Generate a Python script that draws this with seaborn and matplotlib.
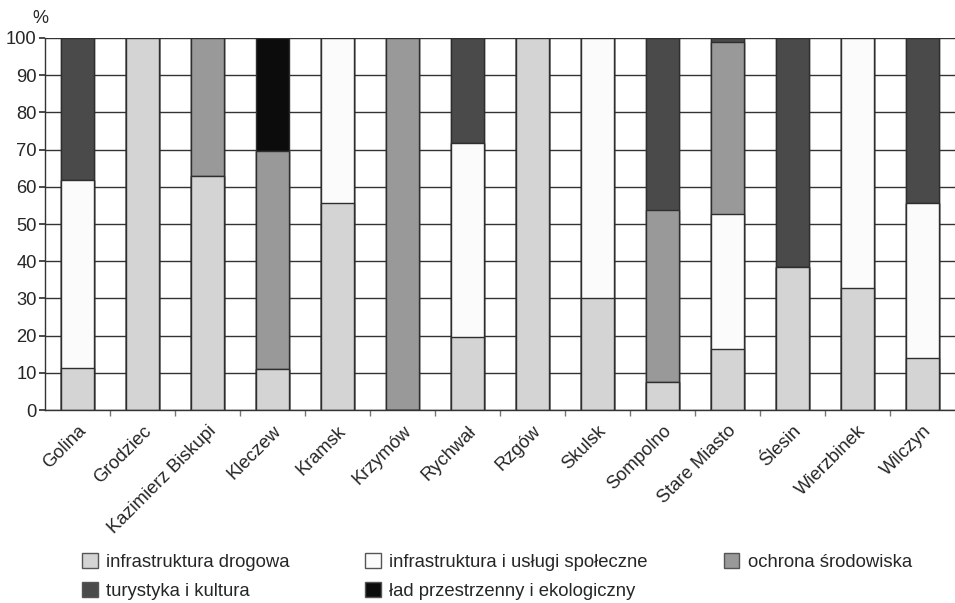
import numpy as np
import pandas as pd
import matplotlib
matplotlib.use("Agg")
import matplotlib.pyplot as plt
import matplotlib.patches as mpatches
import seaborn as sns

gminy = ["Golina", "Grodziec", "Kazimierz Biskupi", "Kleczew", "Kramsk", "Krzymów",
         "Rychwał", "Rzgów", "Skulsk", "Sompolno", "Stare Miasto", "Ślesin",
         "Wierzbinek", "Wilczyn"]

drogowa    = [11.2, 100, 63.0, 11.0, 55.6, 0,   19.7, 100, 30.2, 7.6,  16.4, 38.5, 32.7, 13.9]
spoleczne  = [50.6, 0,   0,    0,    44.4, 0,   52.2, 0,   69.8, 0,    36.3, 0,    67.3, 41.7]
ochrona    = [0,    0,   37.0, 58.7, 0,    100, 0,    0,   0,    46.2, 46.1, 0,    0,    0]
turystyka  = [38.2, 0,   0,    0,    0,    0,   28.1, 0,   0,    46.2, 1.2,  61.5, 0,    44.4]
lad        = [0,    0,   0,    30.3, 0,    0,   0,    0,   0,    0,    0,    0,    0,    0]

series = ["infrastruktura drogowa", "infrastruktura i usługi społeczne",
          "ochrona środowiska", "turystyka i kultura", "ład przestrzenny i ekologiczny"]
colors = ["#d4d4d4", "#fbfbfb", "#999999", "#4a4a4a", "#0c0c0c"]

df = pd.DataFrame({"gmina": gminy, series[0]: drogowa, series[1]: spoleczne,
                   series[2]: ochrona, series[3]: turystyka, series[4]: lad})
cum = df[series].cumsum(axis=1)

sns.set_theme(style="white")
plt.rcParams['font.family'] = ['Liberation Sans', 'DejaVu Sans']
txt = "#262626"

fig = plt.figure(figsize=(9.55, 6.03), dpi=100)
ax = fig.add_axes([0.0471, 0.320, 0.9529, 0.617])

# stacked bars: cumulative totals drawn from the top layer down
for i in range(len(series) - 1, -1, -1):
    sns.barplot(x=df["gmina"], y=cum[series[i]], color=colors[i], ax=ax,
                width=0.51, edgecolor="#2e2e2e", linewidth=1.0, saturation=1,
                order=gminy)

ax.set_xlim(-0.5, len(gminy) - 0.5)
ax.set_ylim(0, 100)
ax.set_yticks(range(0, 101, 10))
ax.yaxis.grid(True, color="#333333", linewidth=1.0)
ax.set_axisbelow(True)
ax.set_xlabel("")
ax.set_ylabel("")

for s in ["top", "right"]:
    ax.spines[s].set_visible(False)
for s in ["left", "bottom"]:
    ax.spines[s].set_color("#333333")
    ax.spines[s].set_linewidth(1.0)

ax.set_xticks(range(len(gminy)))
ax.set_xticklabels(gminy, rotation=45, ha="right", va="top", rotation_mode="anchor",
                   fontsize=13.2, color=txt)
ax.set_xticks(np.arange(0.5, len(gminy) - 0.5, 1), minor=True)
ax.tick_params(axis="x", which="major", length=0, pad=9)
ax.tick_params(axis="x", which="minor", length=4, color="#777777", direction="out", bottom=True)
ax.tick_params(axis="y", length=4, color="#333333", labelsize=13.2, labelcolor=txt, pad=2, left=True)

fig.text(0.042, 0.97, "%", fontsize=13, color=txt, ha="center", va="center")

handles = [mpatches.Patch(facecolor=colors[i], edgecolor="#555555", label=series[i])
           for i in [0, 3, 1, 4, 2]]
fig.legend(handles=handles, ncol=3, loc="upper left", bbox_to_anchor=(0.086, 0.083),
           frameon=False, fontsize=13.3, labelcolor=txt, handlelength=0.85, handleheight=0.85,
           handletextpad=0.45, columnspacing=4.1, labelspacing=0.62, borderpad=0,
           borderaxespad=0)

fig.savefig("out.png", dpi=100)
